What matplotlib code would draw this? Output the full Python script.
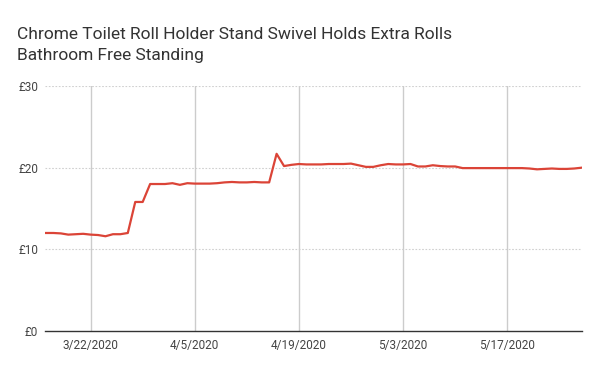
import datetime as dt
import matplotlib
matplotlib.use("Agg")
import matplotlib.pyplot as plt
import matplotlib.dates as mdates

plt.rcParams['font.family'] = ['Roboto', 'DejaVu Sans']

title = "Chrome Toilet Roll Holder Stand Swivel Holds Extra Rolls\nBathroom Free Standing"

start = dt.date(2020, 3, 16)
prices = [12.0, 12.0, 11.95, 11.8, 11.85, 11.9, 11.8, 11.75, 11.6, 11.85,
          11.85, 12.0, 15.8, 15.8, 18.0, 18.0, 18.0, 18.1, 17.9, 18.1,
          18.05, 18.05, 18.05, 18.1, 18.2, 18.25, 18.2, 18.2, 18.25, 18.2,
          18.2, 21.7, 20.2, 20.35, 20.45, 20.4, 20.4, 20.4, 20.45, 20.45,
          20.45, 20.5, 20.3, 20.1, 20.1, 20.3, 20.45, 20.4, 20.4, 20.45,
          20.15, 20.15, 20.3, 20.2, 20.15, 20.15, 19.95, 19.95, 19.95, 19.95,
          19.95, 19.95, 19.95, 19.95, 19.95, 19.9, 19.8, 19.85, 19.9, 19.85,
          19.85, 19.9, 20.0]
dates = [start + dt.timedelta(days=i) for i in range(len(prices))]

tick_dates = [dt.date(2020, 3, 22), dt.date(2020, 4, 5), dt.date(2020, 4, 19),
              dt.date(2020, 5, 3), dt.date(2020, 5, 17)]
tick_labels = ["3/22/2020", "4/5/2020", "4/19/2020", "5/3/2020", "5/17/2020"]
y_ticks = [0, 10, 20, 30]
y_labels = ["£0", "£10", "£20", "£30"]

fig = plt.figure(figsize=(6, 3.71), dpi=100)
ax = fig.add_axes([0.075, 0.108, 0.895, 0.66])

ax.plot(dates, prices, color="#db4437", lw=1.6, solid_joinstyle="round")

x0 = mdates.date2num(dates[0]) - 0.13
x1 = mdates.date2num(dates[-1]) + 0.05
ax.set_xlim(x0, x1)
ax.set_ylim(0, 30)

ax.set_xticks(tick_dates)
ax.set_xticklabels(tick_labels)
ax.set_yticks(y_ticks)
ax.set_yticklabels(y_labels)

for v in y_ticks[1:]:
    ax.axhline(v, color="#d0d0d0", lw=0.8, ls=(0, (1.5, 1.5)), zorder=0)
for d in tick_dates:
    ax.axvline(d, color="#cccccc", lw=1, zorder=0)

for s in ["top", "right", "left"]:
    ax.spines[s].set_visible(False)
ax.spines["bottom"].set_color("#333333")
ax.spines["bottom"].set_linewidth(1)
ax.tick_params(length=0, labelsize=8.5, labelcolor="#444444")
ax.tick_params(axis="x", pad=6)
ax.tick_params(axis="y", pad=5)

fig.text(0.028, 0.927, title, fontsize=12.5, color="#333333",
         va="top", ha="left", linespacing=1.5)

fig.savefig("out.png", dpi=100)
